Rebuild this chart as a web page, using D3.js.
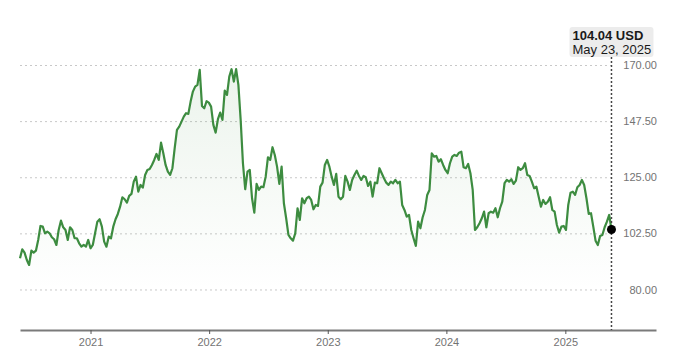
<!DOCTYPE html>
<html>
<head>
<meta charset="utf-8">
<script src="https://cdn.jsdelivr.net/npm/d3@7"></script>
<style>
  body { margin: 0; background: #fff; }
  svg { display: block; font-family: "Liberation Sans", Arial, sans-serif; }
</style>
</head>
<body>
<div id="chart"></div>
<script>
// weekly closes (Fridays), first week ending 2020-05-29
const firstWeek = "2020-05-29";
const closes = [
  92.51, 96.12, 94.75, 91.82, 89.82, 95.56, 94.75, 95.56, 99.85, 105.46,
  105.18, 102.53, 103.18, 102.53, 100.93, 100.13, 97.84, 103.86, 107.59, 104.94,
  103.86, 99.85, 104.94, 103.86, 100.53, 100.53, 98.52, 97.16, 97.84, 97.16,
  99.85, 96.52, 97.84, 102.53, 107.19, 108.15, 105.18, 99.17, 97.16, 101.17,
  100.53, 105.18, 108.15, 110.28, 113.20, 116.97, 116.17, 114.81, 117.50, 118.30,
  123.23, 125.24, 119.22, 121.91, 120.82, 125.92, 127.92, 128.33, 129.93, 131.94,
  134.34, 131.94, 138.87, 134.62, 129.93, 127.24, 125.92, 128.61, 136.63, 143.97,
  145.29, 147.30, 149.30, 150.67, 150.39, 155.32, 159.33, 161.34, 162.02, 168.03,
  153.60, 152.67, 155.48, 154.92, 153.31, 145.97, 142.89, 148.26, 150.91, 147.98,
  159.73, 158.01, 165.35, 168.32, 163.34, 168.32, 162.02, 147.98, 130.61, 120.18,
  127.24, 127.92, 116.57, 110.80, 122.31, 119.90, 121.23, 120.99, 125.24, 133.02,
  131.94, 137.03, 133.94, 129.25, 122.31, 129.25, 114.57, 108.55, 101.85, 100.53,
  99.57, 102.53, 112.56, 107.87, 116.57, 114.57, 116.57, 117.21, 115.89, 112.16,
  113.89, 113.49, 121.23, 122.83, 129.93, 131.94, 129.25, 125.24, 121.91, 126.32,
  117.21, 116.17, 117.21, 125.52, 123.23, 119.90, 123.91, 125.92, 127.64, 125.52,
  123.91, 125.52, 125.00, 121.51, 123.23, 117.21, 122.83, 122.59, 128.61, 126.60,
  124.60, 122.83, 121.91, 123.23, 122.59, 123.91, 122.59, 123.23, 113.89, 111.88,
  109.19, 109.87, 103.86, 100.53, 97.44, 107.19, 104.54, 108.95, 111.88, 117.90,
  119.90, 134.62, 133.26, 133.54, 131.25, 132.22, 129.93, 127.92, 126.60, 130.61,
  133.26, 133.94, 133.54, 134.86, 135.26, 129.01, 128.61, 130.33, 126.60, 119.90,
  103.86, 104.94, 106.55, 108.55, 111.20, 104.94, 110.56, 111.20, 110.80, 112.56,
  108.95, 112.56, 115.21, 122.59, 123.91, 123.23, 124.19, 122.31, 123.63, 129.01,
  127.92, 128.61, 130.61, 125.92, 125.52, 123.23, 120.58, 121.23, 117.21, 113.20,
  115.89, 114.29, 115.21, 116.97, 111.88, 111.20, 105.86, 102.78, 105.18, 105.46,
  103.86, 113.89, 118.82, 119.22, 117.90, 120.99, 121.91, 123.91, 121.91, 116.57,
  110.28, 110.56, 105.18, 99.57, 97.84, 101.45, 101.85, 104.94, 107.19, 109.87,
  104.04
];
const yTicks = [80, 102.5, 125, 147.5, 170];
const yearTicks = ["2021", "2022", "2023", "2024", "2025"];
const currency = "USD";

const width = 680, height = 361;
const parse = d3.timeParse("%Y-%m-%d");
const start = parse(firstWeek);
const data = closes.map((v, i) => ({ date: d3.timeWeek.offset(start, i), value: v }));
const last = data[data.length - 1];

const x = d3.scaleTime()
  .domain([start, parse("2025-10-07")])
  .range([20, 656]);
const y = d3.scaleLinear()
  .domain([63.75, 170])
  .range([330, 65]);

const svg = d3.select("#chart").append("svg")
  .attr("width", width)
  .attr("height", height);

const defs = svg.append("defs");
const grad = defs.append("linearGradient")
  .attr("id", "fillGrad")
  .attr("gradientUnits", "userSpaceOnUse")
  .attr("x1", 0).attr("x2", 0)
  .attr("y1", y(170)).attr("y2", y(63.75));
grad.append("stop").attr("offset", "0%").attr("stop-color", "#3d8c40").attr("stop-opacity", 0.1);
grad.append("stop").attr("offset", "85%").attr("stop-color", "#3d8c40").attr("stop-opacity", 0);

// gridlines + right labels
const gridW = x(last.date) - 20;
const yAxis = svg.append("g")
  .attr("transform", "translate(20,0)")
  .call(d3.axisRight(y).tickValues(yTicks).tickSize(gridW).tickFormat(d3.format(".2f")));
yAxis.select(".domain").remove();
yAxis.selectAll("line")
  .attr("stroke", "#c8c8c8")
  .attr("stroke-dasharray", "2,3");
yAxis.selectAll("text")
  .attr("x", 637)
  .attr("text-anchor", "end")
  .attr("fill", "#737373")
  .style("font-size", "11px");

// area + line
svg.append("path")
  .datum(data)
  .attr("fill", "url(#fillGrad)")
  .attr("d", d3.area().x(d => x(d.date)).y0(y(63.75)).y1(d => y(d.value)));

svg.append("path")
  .datum(data)
  .attr("fill", "none")
  .attr("stroke", "#3d8c40")
  .attr("stroke-width", 2.2)
  .attr("stroke-linejoin", "round")
  .attr("d", d3.line().x(d => x(d.date)).y(d => y(d.value)));

// x axis
const xAxis = svg.append("g")
  .attr("transform", "translate(0,330)")
  .call(d3.axisBottom(x)
    .tickValues(yearTicks.map(t => d3.timeParse("%Y")(t)))
    .tickFormat(d3.timeFormat("%Y"))
    .tickSize(4)
    .tickSizeOuter(0));
xAxis.select(".domain").attr("stroke", "#7a7a7a").attr("stroke-width", 2);
xAxis.selectAll("line").attr("stroke", "#555");
xAxis.selectAll("text")
  .attr("fill", "#737373")
  .attr("dy", "0.8em")
  .style("font-size", "11px");

// marker for last close
const lx = x(last.date);
svg.append("line")
  .attr("x1", lx).attr("x2", lx)
  .attr("y1", 57).attr("y2", 330)
  .attr("stroke", "#444")
  .attr("stroke-width", 1.5)
  .attr("stroke-dasharray", "2,2");

svg.append("circle")
  .attr("cx", lx)
  .attr("cy", y(last.value))
  .attr("r", 4.5)
  .attr("fill", "#000");

const boxW = 84;
const tip = svg.append("g").attr("transform", `translate(${lx - boxW / 2},27)`);
tip.append("rect")
  .attr("width", boxW).attr("height", 30)
  .attr("rx", 3)
  .attr("fill", "#ececec");
tip.append("text")
  .attr("x", 3).attr("y", 12.5)
  .attr("fill", "#1a1a1a")
  .style("font-size", "13px")
  .style("font-weight", "bold")
  .text(d3.format(".2f")(last.value) + " " + currency);
tip.append("text")
  .attr("x", 3).attr("y", 27)
  .attr("fill", "#1a1a1a")
  .style("font-size", "13px")
  .text(d3.timeFormat("%b %-d, %Y")(last.date));
</script>
</body>
</html>
